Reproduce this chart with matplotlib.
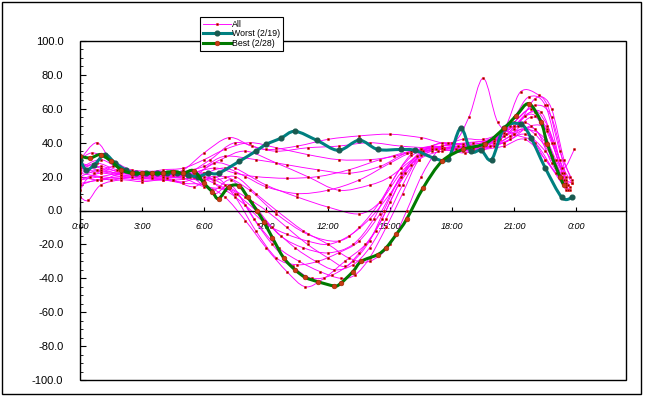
#! /usr/bin/env python3
# -*- coding: utf-8 -*-
# Daily profiles, all days + worst / best day (Excel style smoothed lines)

import numpy as np
from matplotlib import pyplot as plt
from matplotlib.path import Path
from matplotlib.patches import PathPatch, Rectangle
from matplotlib.lines import Line2D

plt.rcParams['font.family'] = ['Liberation Sans', 'DejaVu Sans']

# (hour, value) for every day
day_a = [(0, 25), (1, 30), (2, 24), (3, 22), (4, 21), (5, 24), (6, 34), (7.2, 43), (8.3, 38), (9.5, 35),
         (11, 37), (12.5, 38), (14, 40), (15.5, 38), (17, 37), (18.5, 38), (20, 42), (21, 50), (22, 56),
         (23, 30), (23.7, 14)]
day_b = [(0, 28), (0.8, 24), (2, 22), (3.5, 21), (5, 21), (6.3, 30), (7.5, 40), (9, 36), (10.5, 38),
         (12, 42), (13.5, 44), (15, 45), (16.5, 43), (18, 40), (18.8, 55), (19.5, 78), (20.2, 52),
         (21, 45), (22, 40), (23, 22), (23.6, 15)]
day_c = [(0, 18), (1, 22), (2, 20), (3, 19), (4, 20), (5, 21), (6.5, 25), (7.5, 22), (8.5, 20), (10, 19),
         (11.5, 20), (13, 24), (14.5, 30), (16, 35), (17.5, 37), (19, 36), (20.5, 40), (21.5, 45),
         (22.5, 35), (23.3, 20), (23.8, 16)]
day_d = [(0, 30), (0.6, 34), (1.5, 30), (2.5, 24), (4, 23), (5.5, 22), (6.8, 30), (8, 35), (9.5, 28),
         (11, 20), (12.5, 12), (14, 15), (15, 20), (16.3, 32), (17.5, 38), (19, 40), (20.5, 44),
         (21.5, 48), (22.5, 42), (23.2, 20), (23.7, 12)]
day_e = [(0, 15), (0.8, 18), (2, 20), (3, 19), (4.5, 18), (5.5, 20), (6.5, 28), (7.5, 25), (9, 15),
         (10.5, 8), (12, 2), (13.5, -2), (14.5, 5), (15.5, 22), (16.5, 34), (17.5, 40), (18.5, 37),
         (20, 41), (21, 52), (22, 62), (22.8, 55), (23.5, 20)]
day_f = [(0, 22), (1, 26), (2, 22), (3.5, 20), (5, 19), (6, 18), (7, 20), (8.2, 12), (9.5, -2),
         (11, -14), (12.5, -18), (13.5, -10), (14.5, 5), (15.5, 25), (16.5, 36), (17.5, 38),
         (18.5, 39), (19.5, 40), (20.5, 46), (21.5, 52), (22.5, 40), (23.4, 18)]
day_g = [(0, 24), (0.8, 28), (1.8, 24), (3, 22), (4.5, 22), (5.5, 21), (6.5, 16), (7.5, 10), (8.5, 0),
         (9.7, -15), (10.8, -22), (12, -25), (13.2, -20), (14.2, -5), (15, 15), (16, 33), (17, 38),
         (18.2, 36), (19.5, 38), (20.8, 50), (21.8, 60), (22.6, 50), (23.4, 22)]
day_h = [(0, 12), (0.5, 20), (1.5, 18), (2.5, 20), (3.5, 19), (4.5, 18), (5.5, 14), (6.5, 20), (7.5, 8),
         (8.5, -12), (9.5, -28), (10.5, -32), (11.5, -30), (12.5, -25), (13.5, -18), (14.5, -2),
         (15.5, 20), (16.5, 33), (17.5, 37), (19, 36), (20.5, 40), (21.5, 48), (22.5, 30), (23.5, 15)]
day_i = [(0, 20), (1, 24), (2, 21), (3, 20), (4.2, 19), (5.3, 20), (6.4, 12), (7.3, 18), (8.3, 5),
         (9.3, -10), (10.4, -22), (11.4, -30), (12.3, -35), (13.2, -32), (14, -22), (14.8, -5),
         (15.6, 15), (16.6, 35), (17.8, 40), (19.2, 38), (20.6, 45), (21.5, 56), (22.3, 58),
         (22.9, 40), (23.5, 18)]
day_j = [(0, 26), (0.7, 22), (1.6, 26), (2.6, 23), (3.6, 22), (4.6, 22), (5.6, 20), (6.5, 10), (7.3, 15),
         (8.4, -5), (9.3, -20), (10.3, -33), (11.2, -40), (12.2, -38), (13.2, -30), (14, -18),
         (14.7, 0), (15.5, 20), (16.5, 35), (17.6, 37), (18.8, 38), (20, 40), (21, 55), (21.7, 67),
         (22.5, 62), (23.2, 30), (23.8, 16)]
day_k = [(0, 8), (0.4, 6), (1, 15), (2, 18), (3, 17), (4, 18), (5, 16), (6, 15), (7, 8), (8, -6),
         (9, -22), (10, -36), (10.9, -45), (11.8, -40), (12.8, -30), (13.8, -20), (14.6, -5),
         (15.4, 15), (16.4, 30), (17.5, 35), (19, 37), (20.3, 42), (21.2, 50), (22, 45), (22.8, 32),
         (23.5, 14)]
day_l = [(0, 30), (0.8, 40), (1.5, 30), (2.5, 23), (3.5, 22), (4.5, 21), (5.5, 22), (6.5, 18), (7.5, 20),
         (8.5, 10), (9.5, 0), (10.8, -12), (12, -20), (13, -28), (14, -30), (15, -20), (15.8, 0),
         (16.5, 20), (17.3, 35), (18.3, 38), (19.5, 37), (20.8, 42), (21.8, 50), (22.6, 47),
         (23.3, 25), (23.9, 36)]
day_m = [(0, 18), (1, 20), (2, 22), (3, 21), (4, 20), (5, 19), (6, 14), (7, 12), (8, 3), (9, -8),
         (10, -14), (11, -18), (12, -20), (13, -15), (14, -5), (15, 10), (16, 27), (17, 35), (18, 37),
         (19, 35), (20, 38), (21, 45), (22, 48), (22.8, 28), (23.6, 12)]
day_n = [(0, 28), (1, 25), (2, 23), (3, 22), (4, 22), (5, 23), (6, 26), (7, 32), (8.5, 30), (10, 27),
         (11.5, 24), (13, 22), (14.5, 26), (15.8, 34), (17, 36), (18.5, 42), (19.5, 42), (20.5, 48),
         (21.3, 70), (22.2, 68), (22.8, 60), (23.4, 30), (23.8, 18)]
day_o = [(0, 20), (1, 18), (2, 22), (3, 22), (4, 24), (5, 25), (6, 30), (7, 36), (8.2, 40), (9.5, 37),
         (11, 33), (12.5, 30), (14, 30), (15.2, 32), (16.5, 36), (18, 37), (19.5, 38), (21, 48),
         (22, 66), (22.6, 62), (23.2, 35), (23.7, 20)]
day_p = [(0, 22), (1, 20), (2, 19), (3, 18), (4, 18), (5, 17), (6, 20), (7, 15), (8, 8), (9, 0),
         (10, -10), (11, -20), (12, -28), (12.8, -33), (13.5, -25), (14.3, -12), (15, 5), (15.7, 22),
         (16.6, 34), (17.6, 36), (18.6, 34), (19.8, 38), (20.8, 44), (21.8, 55), (22.6, 48), (23.3, 22)]
day_q = [(0, 24), (1, 23), (2, 21), (3, 21), (4, 20), (5, 20), (6, 22), (6.7, 14), (7.6, 10), (8.6, -8),
         (9.6, -22), (10.6, -30), (11.6, -36), (12.6, -40), (13.3, -38), (14, -28), (14.8, -10),
         (15.6, 10), (16.4, 30), (17.5, 38), (18.7, 40), (20, 42), (21, 50), (22, 58), (22.8, 40),
         (23.5, 16)]
day_r = [(0, 16), (1, 18), (2, 19), (3, 20), (4, 21), (5, 20), (6, 22), (7, 25), (8, 20), (9, 14),
         (10.5, 10), (12, 12), (13.5, 18), (15, 28), (16, 34), (17.2, 36), (18.5, 35), (19.5, 36),
         (20.5, 38), (21.5, 42), (22.5, 30), (23.5, 12)]
all_days = [day_a, day_b, day_c, day_d, day_e, day_f, day_g, day_h, day_i,
            day_j, day_k, day_l, day_m, day_n, day_o, day_p, day_q, day_r]

worst_h = [0.0, 0.3, 0.7, 1.2, 1.7, 2.2, 2.7, 3.2, 3.7, 4.2, 4.7, 5.2, 5.7, 6.2, 6.7, 7.7, 8.5, 9.0,
           9.7, 10.4, 11.45, 12.5, 13.5, 14.4, 15.5, 16.2, 17.1, 17.8, 18.4, 18.9, 19.4, 19.9, 20.5,
           21.3, 21.8, 22.5, 23.3, 23.8]
worst_v = [30, 24, 27, 33, 28, 24, 22, 22, 22, 22, 22, 21, 20, 22, 22, 29, 35, 39,
           42.6, 46.7, 41.4, 35.5, 41.4, 36, 36, 35.5, 31, 30.5, 48.5, 35, 35.5, 30, 48.5,
           51, 43, 25, 7.7, 7.7]

best_h = [0.0, 0.5, 1.0, 1.5, 2.0, 2.5, 3.0, 3.5, 4.0, 4.5, 5.0, 5.5, 6.0, 6.4, 6.7, 7.2, 7.7, 8.1,
          8.55, 8.9, 9.3, 9.85, 10.4, 10.9, 11.5, 12.3, 12.6, 13.2, 13.6, 14.4, 14.8, 15.3, 15.8,
          16.6, 17.5, 18.5, 19.6, 20.5, 21.1, 21.7, 22.3, 22.6, 23.2, 23.4]
best_v = [32, 31, 33, 29, 24, 22, 22, 22, 22, 23, 22, 23.5, 16, 11, 7, 14, 14.5, 8,
          0, -7, -16, -28, -35, -39.5, -42, -44.5, -43, -36, -30, -26, -22, -14, -5,
          13.5, 29, 36, 39.5, 48.5, 56, 63, 52, 39, 20, 15]

tick_hours = [0, 3, 6, 9, 12, 15, 18, 21, 24]
tick_labels = ['0:00', '3:00', '6:00', '9:00', '12:00', '15:00', '18:00', '21:00', '0:00']


def smooth_path(xs, ys):
    "bezier path through the points, like Excel's smoothed line"
    pts = np.column_stack([xs, ys]).astype(float)
    n = len(pts)
    verts = [pts[0]]
    codes = [Path.MOVETO]
    for i in range(n - 1):
        p0 = pts[max(i - 1, 0)]
        p1 = pts[i]
        p2 = pts[i + 1]
        p3 = pts[min(i + 2, n - 1)]
        verts += [p1 + (p2 - p0) / 6, p2 - (p3 - p1) / 6, p2]
        codes += [Path.CURVE4] * 3
    return Path(verts, codes)


fig = plt.figure(figsize=(6.45, 3.98), dpi=100)
ax = fig.add_axes([80 / 645, 1 - 380 / 398, 546 / 645, 339 / 398])

all_kw = dict(ls='none', marker='o', ms=1.8, mfc='#800000', mec='#ff3030', mew=0.4)
for day in all_days:
    h, v = zip(*day)
    ax.add_patch(PathPatch(smooth_path(h, v), fill=False, ec='#ff00ff', lw=0.65, zorder=2))
    ax.plot(h, v, zorder=3, **all_kw)

ax.add_patch(PathPatch(smooth_path(worst_h, worst_v), fill=False, ec='#008080', lw=2.2, zorder=4))
ax.plot(worst_h, worst_v, ls='none', marker='o', ms=3.4, mfc='#1a5a50', mec='#1a5a50', zorder=5)

ax.add_patch(PathPatch(smooth_path(best_h, best_v), fill=False, ec='#007a00', lw=2.2, zorder=6))
ax.plot(best_h, best_v, ls='none', marker='o', ms=3.4, mfc='#c83c14', mec='#a02000', mew=0.4, zorder=7)

ax.set_xlim(0, 26.4)
ax.set_ylim(-100, 100)

# x axis crosses at 0, frame drawn separately
for s in ['top', 'right', 'left']:
    ax.spines[s].set_visible(False)
ax.spines['bottom'].set_position(('data', 0))
ax.spines['bottom'].set_linewidth(1.0)
ax.add_patch(Rectangle((0, 0), 1, 1, transform=ax.transAxes, fill=False,
                       ec='black', lw=1.0, clip_on=False, zorder=10))

ax.set_xticks(tick_hours)
ax.set_xticklabels(tick_labels, fontsize=6.5, style='italic')
ax.tick_params(axis='x', direction='in', length=3, width=0.8, pad=8)

ax.set_yticks(np.arange(-100, 101, 20))
ax.set_yticklabels([f'{v:.1f}' for v in np.arange(-100, 101, 20)], fontsize=8)
ax.set_yticks(np.arange(-100, 101, 5), minor=True)
ax.tick_params(axis='y', which='major', direction='in', length=4, width=0.8, pad=12)
ax.tick_params(axis='y', which='minor', direction='in', length=2, width=0.6)

handles = [
    Line2D([], [], color='#ff00ff', lw=0.65, marker='o', ms=1.8, mfc='#800000', mec='#ff3030', mew=0.4),
    Line2D([], [], color='#008080', lw=2.2, marker='o', ms=3.4, mfc='#1a5a50', mec='#1a5a50'),
    Line2D([], [], color='#007a00', lw=2.2, marker='o', ms=3.4, mfc='#c83c14', mec='#a02000', mew=0.4),
]
leg = fig.legend(handles, ['All', 'Worst (2/19)', 'Best (2/28)'], loc='upper left',
                 bbox_to_anchor=(200 / 645, 1 - 17 / 398), fontsize=6.3, frameon=True,
                 fancybox=False, framealpha=1, edgecolor='black', borderpad=0.3,
                 labelspacing=0.1, handlelength=3.2, handletextpad=0.2, borderaxespad=0)
leg.get_frame().set_linewidth(0.8)
leg.set_zorder(20)

fig.add_artist(Rectangle((2 / 645, 1 - 394 / 398), 639 / 645, 392 / 398, transform=fig.transFigure,
                         fill=False, ec='black', lw=1.0))

fig.savefig('out.png', dpi=100)
